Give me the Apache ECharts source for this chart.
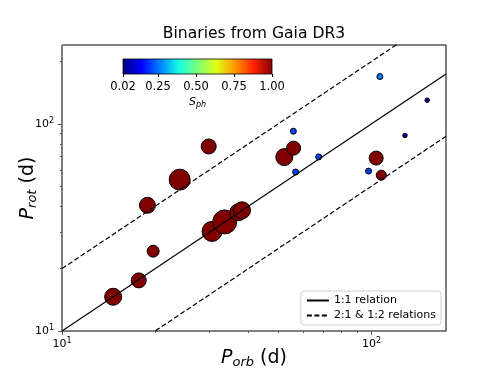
<!DOCTYPE html>
<html>
<head>
<meta charset="utf-8">
<script src="https://cdn.jsdelivr.net/npm/echarts@6/dist/echarts.min.js"></script>
<style>
  html, body { margin: 0; padding: 0; background: #fff; }
  #main { width: 496px; height: 372px; }
</style>
</head>
<body>
<div id="main"></div>
<script>
// orbital period, rotation period, photometric S_ph, marker diameter
var porb = [14.63, 17.70, 18.88, 19.70, 24.0, 29.78, 30.53, 33.54, 37.13, 38.17, 52.26, 55.9, 56.0, 56.85, 67.5, 97.8, 103.5, 106.4, 107.5, 128.2, 151.3]
var prot = [14.63, 17.55, 40.43, 24.28, 53.76, 77.73, 30.24, 33.6, 37.4, 38.25, 69.06, 92.1, 76.3, 58.5, 69.2, 59.1, 68.3, 169.0, 56.5, 87.8, 129.9]
var sph = [1, 1, 1, 1, 1, 1, 1, 1, 1, 1, 1, 0.21, 1, 0.21, 0.21, 0.2, 1, 0.26, 1, 0.05, 0.05]
var marker = [17, 15, 16, 12, 21, 15, 20, 24, 17, 17, 17, 6, 14, 6, 6, 6, 14, 6, 10, 4.5, 4.5]

var xRange = [10, 174]
var yRange = [10, 240]
var majorTicks = [10, 100]
var minorX = [20, 30, 40, 50, 60, 70, 80, 90]
var minorY = [20, 30, 40, 50, 60, 70, 80, 90, 200]
var cbTicks = [0.02, 0.25, 0.5, 0.75, 1.0]
var ratios = [1, 2, 0.5]

// matplotlib jet, sampled evenly
var jet = ['#000080', '#0000ff', '#0080ff', '#14ffe2', '#7bff7b', '#e2ff15', '#ff9700', '#ff2100', '#800000']

var font = 'DejaVu Sans'
var chart = echarts.init(document.getElementById('main'), null, { renderer: 'canvas' })

var pts = porb.map(function (x, i) { return [x, prot[i], sph[i], marker[i]] })

function relLine(r) {
  return xRange.map(function (x) { return [x, r * x] })
}

function powLabel(margin) {
  return {
    customValues: majorTicks,
    margin: margin,
    formatter: function (v) { return '{b|10}{s|' + Math.round(Math.log10(v)) + '}' },
    rich: {
      b: { fontFamily: font, fontSize: 11, color: '#000', lineHeight: 14 },
      s: { fontFamily: font, fontSize: 8, color: '#000', lineHeight: 8, verticalAlign: 'top' }
    }
  }
}

function nameRich() {
  return {
    p: { fontFamily: font, fontSize: 19, fontStyle: 'italic', color: '#000', lineHeight: 22 },
    sub: { fontFamily: font, fontSize: 13, fontStyle: 'italic', color: '#000', lineHeight: 12, verticalAlign: 'bottom' },
    n: { fontFamily: font, fontSize: 19, color: '#000', lineHeight: 22 }
  }
}

var jetGradient = {
  type: 'linear', x: 0, y: 0, x2: 1, y2: 0,
  colorStops: jet.map(function (c, i) { return { offset: i / (jet.length - 1), color: c } })
}

var dashed = { color: '#000', width: 1.2, type: [5, 2.5] }

var option = {
  backgroundColor: '#fff',
  animation: false,
  title: {
    text: 'Binaries from Gaia DR3',
    left: 254,
    top: 26,
    padding: 0,
    textAlign: 'center',
    textStyle: { fontFamily: font, fontSize: 15.6, fontWeight: 'normal', color: '#000' }
  },
  grid: [
    { left: 62, top: 45, width: 384, height: 286, outerBoundsMode: 'none', show: true, borderColor: '#000', borderWidth: 1, backgroundColor: 'transparent' },
    { left: 123, top: 59, width: 149, height: 15, outerBoundsMode: 'none', show: true, borderColor: '#000', borderWidth: 0.8, backgroundColor: jetGradient },
    { left: 62, top: 45, width: 384, height: 286, outerBoundsMode: 'none' }
  ],
  xAxis: [
    {
      type: 'log', logBase: 10, gridIndex: 0, min: xRange[0], max: xRange[1],
      axisLine: { lineStyle: { color: '#808080', width: 1 } },
      axisTick: { customValues: majorTicks, length: 4, lineStyle: { color: '#555' } },
      axisLabel: powLabel(6),
      splitLine: { show: false },
      name: '{p|P}{sub|orb}{n| (d)}',
      nameLocation: 'middle',
      nameMoveOverlap: false,
      nameGap: 16,
      nameTextStyle: { rich: nameRich() }
    },
    {
      type: 'value', gridIndex: 1, min: 0.02, max: 1,
      axisLine: { show: false },
      axisTick: { customValues: cbTicks, length: 3, lineStyle: { color: '#000' } },
      axisLabel: {
        customValues: cbTicks, margin: 7, fontFamily: font, fontSize: 11.5, color: '#000',
        formatter: function (v) { return v.toFixed(2) }
      },
      splitLine: { show: false },
      name: '{i|S}{s|ph}',
      nameLocation: 'middle',
      nameMoveOverlap: false,
      nameGap: 21,
      nameTextStyle: {
        rich: {
          i: { fontFamily: font, fontSize: 11, fontStyle: 'italic', color: '#000', lineHeight: 14 },
          s: { fontFamily: font, fontSize: 8, fontStyle: 'italic', color: '#000', lineHeight: 8, verticalAlign: 'bottom' }
        }
      }
    },
    {
      type: 'log', logBase: 10, gridIndex: 2, min: xRange[0], max: xRange[1],
      axisLine: { show: false },
      axisTick: { customValues: minorX, length: 2, lineStyle: { color: '#555' } },
      axisLabel: { show: false },
      splitLine: { show: false }
    }
  ],
  yAxis: [
    {
      type: 'log', logBase: 10, gridIndex: 0, min: yRange[0], max: yRange[1],
      axisLine: { show: true, lineStyle: { color: '#808080', width: 1 } },
      axisTick: { show: true, customValues: majorTicks, length: 4, lineStyle: { color: '#555' } },
      axisLabel: powLabel(8),
      splitLine: { show: false },
      name: '{p|P}{sub|rot}{n| (d)}',
      nameLocation: 'middle',
      nameMoveOverlap: false,
      nameGap: 23,
      nameTextStyle: { rich: nameRich() }
    },
    { type: 'value', gridIndex: 1, min: 0, max: 1, show: false },
    {
      type: 'log', logBase: 10, gridIndex: 2, min: yRange[0], max: yRange[1],
      axisLine: { show: false },
      axisTick: { show: true, customValues: minorY, length: 2, lineStyle: { color: '#555' } },
      axisLabel: { show: false },
      splitLine: { show: false }
    }
  ],
  visualMap: {
    show: false,
    type: 'continuous',
    seriesIndex: 0,
    dimension: 2,
    min: 0.02,
    max: 1,
    inRange: { color: jet }
  },
  legend: {
    orient: 'vertical',
    right: 55,
    bottom: 47,
    align: 'left',
    itemWidth: 22,
    itemHeight: 10,
    itemGap: 4,
    padding: [4, 5],
    borderColor: '#d0d0d0',
    borderWidth: 1,
    borderRadius: 3,
    backgroundColor: '#fff',
    itemStyle: { color: 'rgba(0,0,0,0)', borderWidth: 0 },
    textStyle: { fontFamily: font, fontSize: 11, color: '#000' },
    data: ['1:1 relation', '2:1 & 1:2 relations']
  },
  series: [
    {
      type: 'scatter',
      xAxisIndex: 0, yAxisIndex: 0,
      data: pts,
      symbolSize: function (v) { return v[3] },
      itemStyle: { borderColor: '#000', borderWidth: 1, opacity: 1 },
      z: 2
    },
    {
      name: '1:1 relation', type: 'line', data: relLine(ratios[0]),
      symbol: 'none', clip: true, lineStyle: { color: '#000', width: 1.2, type: 'solid' }, z: 3
    },
    {
      name: '2:1 & 1:2 relations', type: 'line', data: relLine(ratios[1]),
      symbol: 'none', clip: true, lineStyle: dashed, z: 3
    },
    {
      name: '2:1 & 1:2 relations', type: 'line', data: relLine(ratios[2]),
      symbol: 'none', clip: true, lineStyle: dashed, z: 3
    }
  ]
}

chart.setOption(option)
</script>
</body>
</html>
